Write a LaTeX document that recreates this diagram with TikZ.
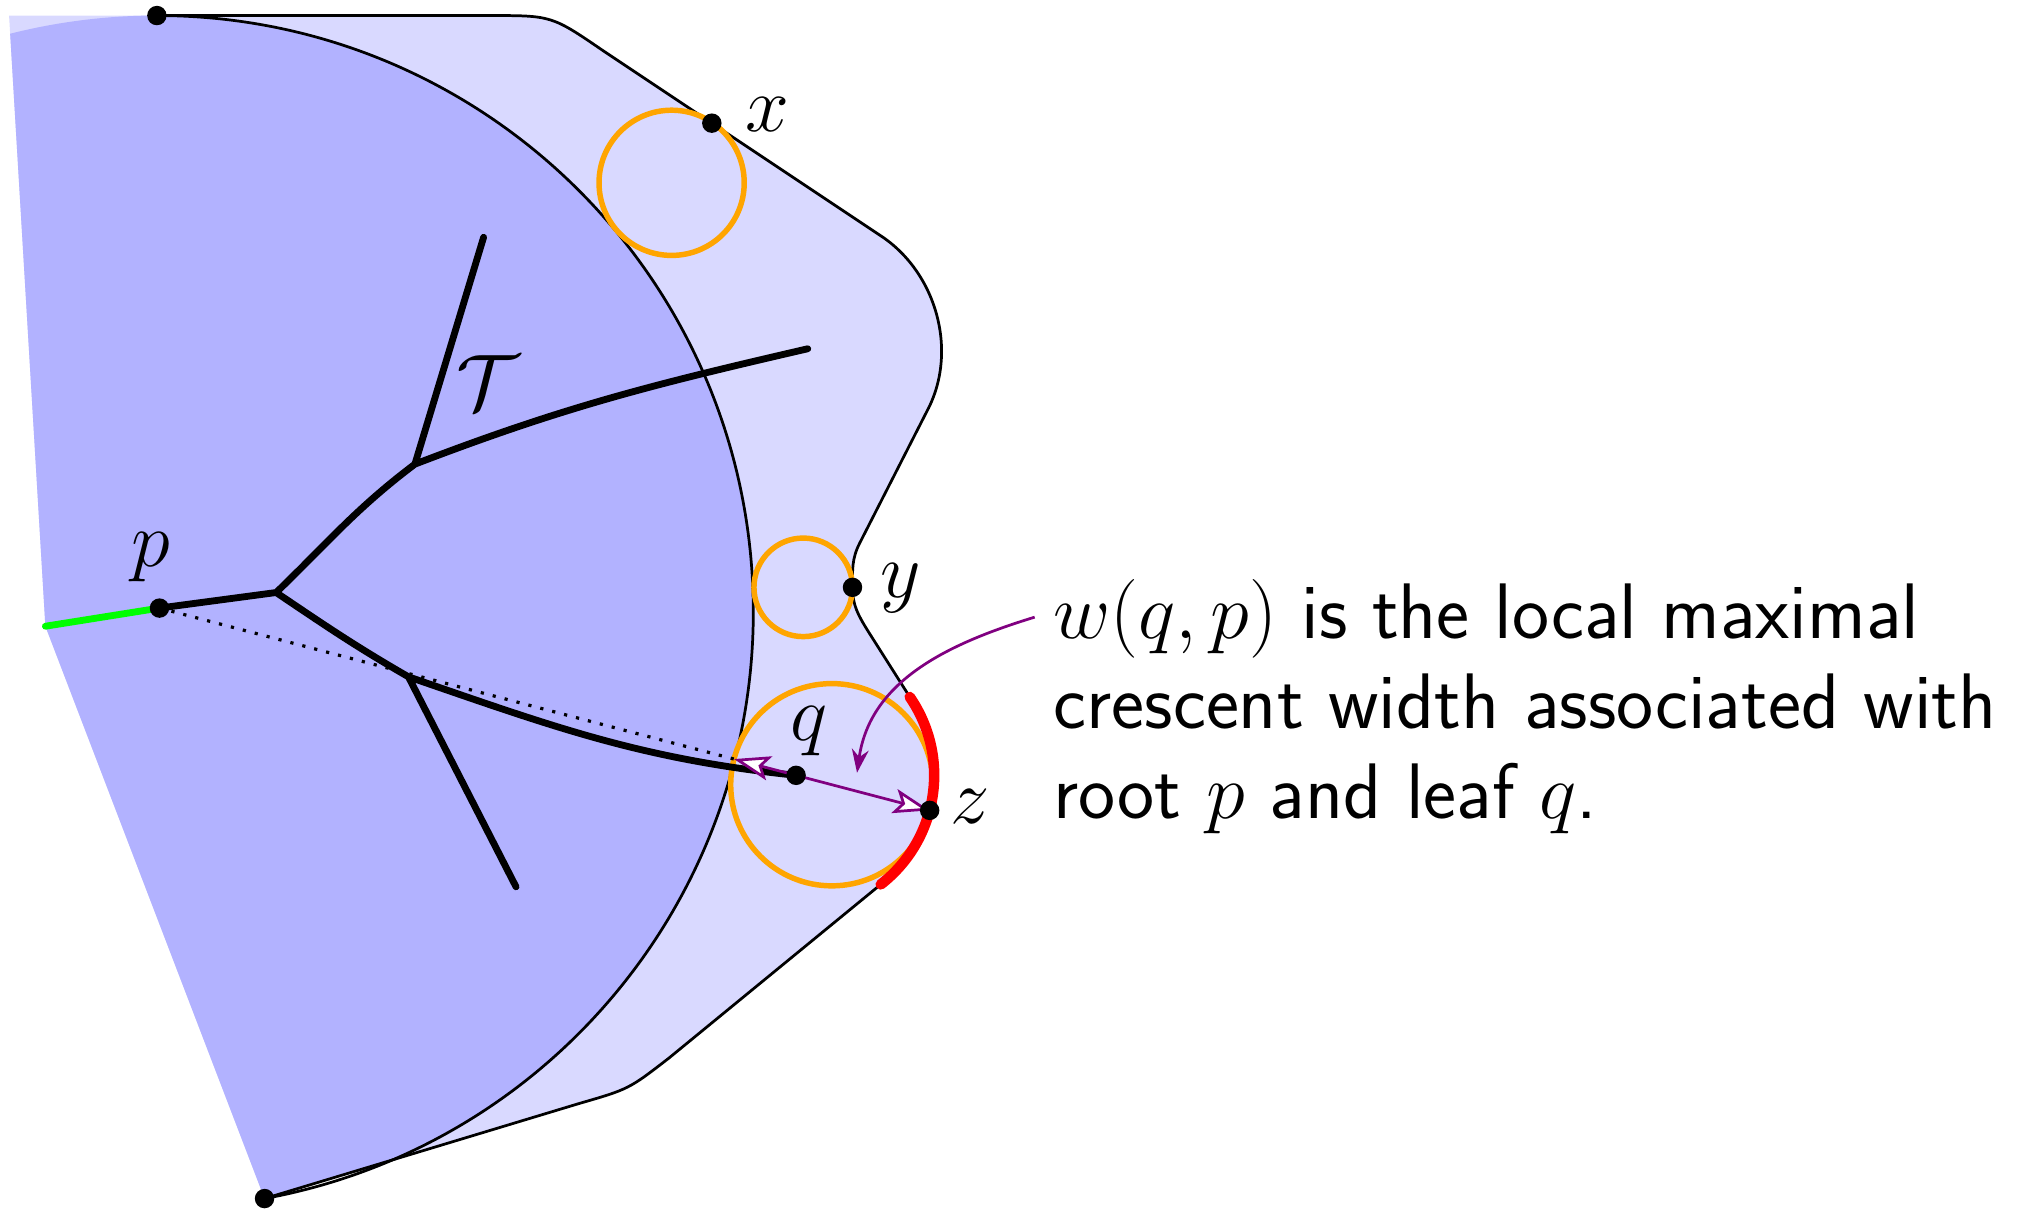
\documentclass[tikz,border=0pt]{standalone}
\usetikzlibrary{arrows.meta}
\definecolor{probeorange}{RGB}{255,165,0}
% outer boundary, from the top point round to the bottom point
\newcommand{\rimpath}{(top) -- (3.78,9.23) .. controls (4.255,9.23) .. (4.65,8.96)
  -- (6.81,7.52) .. controls (7.23,7.23) and (7.39,6.63) .. (7.15,6.18)
  -- (6.63,5.16) to[out=243,in=90] (ypt) to[out=270,in=121.6] (6.69,4.49)
  -- (r1) arc[start angle=34.6,end angle=-52.2,radius=1.065]
  -- (5.16,1.19) .. controls (4.85,0.95) .. (4.47,0.84) -- (bot)}
\begin{document}
\begin{tikzpicture}[x=1cm,y=1cm,
    font=\fontsize{17.28}{19.8}\selectfont,
    tree/.style={line width=1.5pt, line cap=round, line join=round},
    probe/.style={draw=probeorange, line width=1.2pt},
    rim/.style={line width=0.6pt},
    widtharrow/.style={violet, line width=0.6pt,
        >={Stealth[fill=white, length=2.8mm, width=1.9mm, inset=0.6mm]}, <->}]
    \useasboundingbox (0,0) rectangle (15.68,9.35);

    \coordinate (o) at (1.21,4.63);
    \coordinate (top) at ([shift={(90:4.6)}]o);
    \coordinate (bot) at ([shift={(-79.6:4.6)}]o);
    \coordinate (p) at (1.23,4.66);
    \coordinate (q) at (6.14,3.37);
    \coordinate (xpt) at (5.49,8.40);
    \coordinate (ypt) at (6.575,4.82);
    \coordinate (zpt) at ([shift={(-14.7:1.065)}]q);
    \coordinate (r1) at ([shift={(34.6:1.065)}]q);
    \coordinate (c3) at ([shift={(-14.7:0.285)}]q);
    \coordinate (a) at ([shift={(165.3:0.78)}]c3);
    \coordinate (tip) at (0.35,4.52);

    % regions
    \fill[blue!15] \rimpath -- (tip) -- (0.07,9.23) -- cycle;
    \begin{scope}
        \clip \rimpath -- (tip) -- (0.07,9.23) -- cycle;
        \fill[blue!30] (o) circle[radius=4.6];
    \end{scope}
    \draw[rim] (top) arc[start angle=90,end angle=-79.6,radius=4.6];
    \draw[rim] \rimpath;

    % probe circles
    \draw[probe] (5.18,7.94) circle[radius=0.56];
    \draw[probe] (6.195,4.82) circle[radius=0.38];
    \draw[probe] (c3) circle[radius=0.78];
    \draw[red, line width=2.3pt, line cap=round] (r1) arc[start angle=34.6,end angle=-52.2,radius=1.065];

    % tree
    \coordinate (j1) at (2.13,4.78);
    \coordinate (j2) at (3.20,5.77);
    \coordinate (j3) at (3.15,4.13);
    \coordinate (t1) at (3.73,7.52);
    \coordinate (t2) at (6.23,6.66);
    \coordinate (t3) at (3.98,2.51);
    \draw[tree, green] (tip) -- (p);
    \draw[tree] (p) -- (j1) (j1) to[out=44,in=217] (j2) (j2) -- (t1)
        (j2) to[out=21,in=193] (t2) (j1) to[out=-34,in=150] (j3)
        (j3) -- (t3) (j3) to[out=-19,in=174] (q);
    \draw[dotted, line width=0.7pt] (p) -- (a);

    % arrows
    \draw[widtharrow] (a) -- (zpt);
    \coordinate (wfrom) at (7.98,4.59);
    \coordinate (wto) at (6.61,3.39);
    \draw[violet, line width=0.6pt, -{Stealth[length=1.8mm,width=1.3mm]}] (wfrom) to[out=197,in=82] (wto);

    \foreach \pt in {top,bot,p,q,xpt,ypt,zpt}
        \fill (\pt) circle[radius=0.075];

    % labels
    \node (xlab) at (5.92,8.47) {$x$};
    \node (ylab) at (6.95,4.81) {$y$};
    \node (zlab) at (7.48,3.13) {$z$};
    \node (plab) at (1.16,5.05) {$p$};
    \node (qlab) at (6.24,3.71) {$q$};
    \node (tlab) at (3.76,6.40) {$\mathcal{T}$};
    \node[anchor=north west, inner sep=0pt, align=left, font=\sffamily\fontsize{17.28}{19.8}\selectfont] (caption) at (8.12,4.89)
        {$w(q,p)$ is the local maximal\\crescent width associated with\\root $p$ and leaf $q$.};
\end{tikzpicture}
\end{document}
